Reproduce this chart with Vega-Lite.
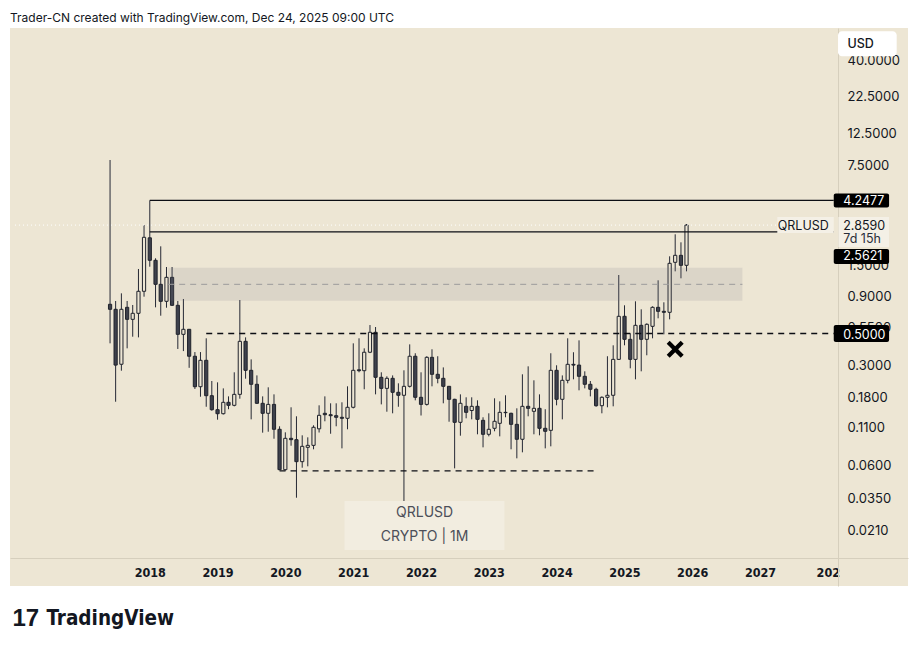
{
  "$schema": "https://vega.github.io/schema/vega-lite/v6.json",
  "width": 898,
  "height": 558,
  "autosize": {"type": "none"},
  "padding": {"left": 10, "top": 28, "right": 8, "bottom": 61},
  "background": "#ffffff",
  "config": {"view": {"fill": "#ede6d4", "stroke": null}},
  "title": {
    "text": "Trader-CN created with TradingView.com, Dec 24, 2025 09:00 UTC",
    "anchor": "start",
    "frame": "group",
    "font": "Inter",
    "fontSize": 12,
    "fontWeight": "normal",
    "color": "#131722",
    "baseline": "alphabetic",
    "offset": 7,
    "dy": 13
  },
  "datasets": {
    "candles": [
      {"t": "2017-06-01", "o": 0.800, "h": 8.14, "l": 0.427, "c": 0.738},
      {"t": "2017-07-01", "o": 0.738, "h": 0.8435, "l": 0.167, "c": 0.301},
      {"t": "2017-08-01", "o": 0.305, "h": 0.954, "l": 0.275, "c": 0.738},
      {"t": "2017-09-01", "o": 0.762, "h": 0.8435, "l": 0.394, "c": 0.628},
      {"t": "2017-10-01", "o": 0.628, "h": 0.791, "l": 0.475, "c": 0.692},
      {"t": "2017-11-01", "o": 0.692, "h": 1.411, "l": 0.470, "c": 0.986},
      {"t": "2017-12-01", "o": 0.986, "h": 2.862, "l": 0.904, "c": 2.349},
      {"t": "2018-01-01", "o": 2.33, "h": 4.2477, "l": 1.464, "c": 1.623},
      {"t": "2018-02-01", "o": 1.623, "h": 1.676, "l": 0.762, "c": 1.103},
      {"t": "2018-03-01", "o": 1.103, "h": 2.032, "l": 0.666, "c": 0.839},
      {"t": "2018-04-01", "o": 0.839, "h": 1.457, "l": 0.757, "c": 1.234},
      {"t": "2018-05-01", "o": 1.234, "h": 1.457, "l": 0.78, "c": 0.787},
      {"t": "2018-06-01", "o": 0.787, "h": 0.8435, "l": 0.390, "c": 0.4935},
      {"t": "2018-07-01", "o": 0.4935, "h": 0.871, "l": 0.377, "c": 0.535},
      {"t": "2018-08-01", "o": 0.535, "h": 0.536, "l": 0.288, "c": 0.347},
      {"t": "2018-09-01", "o": 0.347, "h": 0.371, "l": 0.205, "c": 0.2126},
      {"t": "2018-10-01", "o": 0.2126, "h": 0.371, "l": 0.181, "c": 0.325},
      {"t": "2018-11-01", "o": 0.325, "h": 0.463, "l": 0.154, "c": 0.184},
      {"t": "2018-12-01", "o": 0.184, "h": 0.233, "l": 0.1445, "c": 0.1469},
      {"t": "2019-01-01", "o": 0.1469, "h": 0.228, "l": 0.1251, "c": 0.1377},
      {"t": "2019-02-01", "o": 0.1377, "h": 0.207, "l": 0.136, "c": 0.1654},
      {"t": "2019-03-01", "o": 0.1654, "h": 0.182, "l": 0.148, "c": 0.1576},
      {"t": "2019-04-01", "o": 0.1576, "h": 0.268, "l": 0.155, "c": 0.188},
      {"t": "2019-05-01", "o": 0.188, "h": 0.857, "l": 0.1753, "c": 0.441},
      {"t": "2019-06-01", "o": 0.441, "h": 0.470, "l": 0.2418, "c": 0.2767},
      {"t": "2019-07-01", "o": 0.2767, "h": 0.330, "l": 0.1258, "c": 0.221},
      {"t": "2019-08-01", "o": 0.221, "h": 0.255, "l": 0.161, "c": 0.1628},
      {"t": "2019-09-01", "o": 0.1628, "h": 0.182, "l": 0.1015, "c": 0.1386},
      {"t": "2019-10-01", "o": 0.1386, "h": 0.2105, "l": 0.1031, "c": 0.160},
      {"t": "2019-11-01", "o": 0.160, "h": 0.188, "l": 0.0921, "c": 0.1072},
      {"t": "2019-12-01", "o": 0.1072, "h": 0.1125, "l": 0.0555, "c": 0.0560},
      {"t": "2020-01-01", "o": 0.0560, "h": 0.1021, "l": 0.0552, "c": 0.0927},
      {"t": "2020-02-01", "o": 0.0927, "h": 0.1527, "l": 0.0823, "c": 0.0907},
      {"t": "2020-03-01", "o": 0.0907, "h": 0.1321, "l": 0.03567, "c": 0.0637},
      {"t": "2020-04-01", "o": 0.0637, "h": 0.0973, "l": 0.0578, "c": 0.0815},
      {"t": "2020-05-01", "o": 0.0802, "h": 0.0942, "l": 0.0591, "c": 0.0828},
      {"t": "2020-06-01", "o": 0.0828, "h": 0.1143, "l": 0.0777, "c": 0.1107},
      {"t": "2020-07-01", "o": 0.108, "h": 0.1576, "l": 0.1018, "c": 0.1342},
      {"t": "2020-08-01", "o": 0.1386, "h": 0.182, "l": 0.1219, "c": 0.1355},
      {"t": "2020-09-01", "o": 0.1355, "h": 0.1628, "l": 0.0998, "c": 0.1334},
      {"t": "2020-10-01", "o": 0.1334, "h": 0.1628, "l": 0.1125, "c": 0.130},
      {"t": "2020-11-01", "o": 0.130, "h": 0.1654, "l": 0.0789, "c": 0.1279},
      {"t": "2020-12-01", "o": 0.1279, "h": 0.2139, "l": 0.1072, "c": 0.1527},
      {"t": "2021-01-01", "o": 0.1527, "h": 0.427, "l": 0.150, "c": 0.2767},
      {"t": "2021-02-01", "o": 0.279, "h": 0.463, "l": 0.268, "c": 0.275},
      {"t": "2021-03-01", "o": 0.275, "h": 0.394, "l": 0.204, "c": 0.370},
      {"t": "2021-04-01", "o": 0.370, "h": 0.573, "l": 0.365, "c": 0.510},
      {"t": "2021-05-01", "o": 0.510, "h": 0.555, "l": 0.188, "c": 0.2473},
      {"t": "2021-06-01", "o": 0.2473, "h": 0.268, "l": 0.160, "c": 0.207},
      {"t": "2021-07-01", "o": 0.207, "h": 0.2513, "l": 0.1422, "c": 0.2433},
      {"t": "2021-08-01", "o": 0.2433, "h": 0.255, "l": 0.1386, "c": 0.1943},
      {"t": "2021-09-01", "o": 0.1943, "h": 0.2245, "l": 0.154, "c": 0.1852},
      {"t": "2021-10-01", "o": 0.1852, "h": 0.2767, "l": 0.0309, "c": 0.2139},
      {"t": "2021-11-01", "o": 0.2139, "h": 0.420, "l": 0.210, "c": 0.347},
      {"t": "2021-12-01", "o": 0.347, "h": 0.364, "l": 0.1708, "c": 0.1793},
      {"t": "2022-01-01", "o": 0.1793, "h": 0.268, "l": 0.1338, "c": 0.160},
      {"t": "2022-02-01", "o": 0.160, "h": 0.347, "l": 0.157, "c": 0.341},
      {"t": "2022-03-01", "o": 0.341, "h": 0.388, "l": 0.2139, "c": 0.2595},
      {"t": "2022-04-01", "o": 0.2595, "h": 0.347, "l": 0.2245, "c": 0.2433},
      {"t": "2022-05-01", "o": 0.2433, "h": 0.290, "l": 0.1628, "c": 0.2139},
      {"t": "2022-06-01", "o": 0.2139, "h": 0.215, "l": 0.1211, "c": 0.1736},
      {"t": "2022-07-01", "o": 0.1736, "h": 0.175, "l": 0.0572, "c": 0.1199},
      {"t": "2022-08-01", "o": 0.1199, "h": 0.188, "l": 0.0967, "c": 0.1628},
      {"t": "2022-09-01", "o": 0.1551, "h": 0.1793, "l": 0.1279, "c": 0.1408},
      {"t": "2022-10-01", "o": 0.1450, "h": 0.1793, "l": 0.1258, "c": 0.1551},
      {"t": "2022-11-01", "o": 0.1551, "h": 0.1708, "l": 0.0989, "c": 0.1258},
      {"t": "2022-12-01", "o": 0.1238, "h": 0.130, "l": 0.0802, "c": 0.0989},
      {"t": "2023-01-01", "o": 0.0989, "h": 0.1386, "l": 0.0957, "c": 0.1072},
      {"t": "2023-02-01", "o": 0.1089, "h": 0.1764, "l": 0.1038, "c": 0.1219},
      {"t": "2023-03-01", "o": 0.118, "h": 0.168, "l": 0.0957, "c": 0.1408},
      {"t": "2023-04-01", "o": 0.1408, "h": 0.1852, "l": 0.130, "c": 0.1400},
      {"t": "2023-05-01", "o": 0.1386, "h": 0.140, "l": 0.0777, "c": 0.1161},
      {"t": "2023-06-01", "o": 0.1161, "h": 0.1502, "l": 0.0672, "c": 0.0913},
      {"t": "2023-07-01", "o": 0.0913, "h": 0.2595, "l": 0.0740, "c": 0.1551},
      {"t": "2023-08-01", "o": 0.1551, "h": 0.295, "l": 0.1321, "c": 0.1502},
      {"t": "2023-09-01", "o": 0.1431, "h": 0.2356, "l": 0.0989, "c": 0.1502},
      {"t": "2023-10-01", "o": 0.1502, "h": 0.188, "l": 0.0973, "c": 0.1089},
      {"t": "2023-11-01", "o": 0.1089, "h": 0.148, "l": 0.0789, "c": 0.1038},
      {"t": "2023-12-01", "o": 0.1054, "h": 0.364, "l": 0.0815, "c": 0.2767},
      {"t": "2024-01-01", "o": 0.2767, "h": 0.300, "l": 0.1576, "c": 0.1736},
      {"t": "2024-02-01", "o": 0.1736, "h": 0.255, "l": 0.1258, "c": 0.2356},
      {"t": "2024-03-01", "o": 0.2356, "h": 0.463, "l": 0.2245, "c": 0.3047},
      {"t": "2024-04-01", "o": 0.3047, "h": 0.370, "l": 0.2394, "c": 0.301},
      {"t": "2024-05-01", "o": 0.301, "h": 0.448, "l": 0.2006, "c": 0.2513},
      {"t": "2024-06-01", "o": 0.2513, "h": 0.2723, "l": 0.207, "c": 0.221},
      {"t": "2024-07-01", "o": 0.221, "h": 0.233, "l": 0.182, "c": 0.204},
      {"t": "2024-08-01", "o": 0.204, "h": 0.2092, "l": 0.154, "c": 0.1566},
      {"t": "2024-09-01", "o": 0.1566, "h": 0.182, "l": 0.1386, "c": 0.1793},
      {"t": "2024-10-01", "o": 0.1793, "h": 0.347, "l": 0.1527, "c": 0.1852},
      {"t": "2024-11-01", "o": 0.1852, "h": 0.4137, "l": 0.1551, "c": 0.330},
      {"t": "2024-12-01", "o": 0.330, "h": 1.281, "l": 0.328, "c": 0.6594},
      {"t": "2025-01-01", "o": 0.6594, "h": 0.787, "l": 0.4137, "c": 0.4555},
      {"t": "2025-02-01", "o": 0.4555, "h": 0.5016, "l": 0.2858, "c": 0.330},
      {"t": "2025-03-01", "o": 0.330, "h": 0.839, "l": 0.2394, "c": 0.5705},
      {"t": "2025-04-01", "o": 0.5705, "h": 0.738, "l": 0.2723, "c": 0.4555},
      {"t": "2025-05-01", "o": 0.4555, "h": 0.589, "l": 0.3523, "c": 0.5798},
      {"t": "2025-06-01", "o": 0.5614, "h": 0.7745, "l": 0.463, "c": 0.762},
      {"t": "2025-07-01", "o": 0.762, "h": 1.176, "l": 0.6385, "c": 0.7145},
      {"t": "2025-08-01", "o": 0.7145, "h": 0.826, "l": 0.4935, "c": 0.7033},
      {"t": "2025-09-01", "o": 0.7033, "h": 1.730, "l": 0.628, "c": 1.546},
      {"t": "2025-10-01", "o": 1.571, "h": 2.465, "l": 1.359, "c": 1.758},
      {"t": "2025-11-01", "o": 1.758, "h": 2.167, "l": 1.215, "c": 1.497},
      {"t": "2025-12-01", "o": 1.497, "h": 2.909, "l": 1.359, "c": 2.859}
    ],
    "zone": [{"t0": "2018-04-10", "t1": "2026-09-28", "lo": 0.847, "hi": 1.44, "mid": 1.103}],
    "lastPrice": [{"t0": "2016-01-06", "t1": "2028-02-02", "p": 2.859}],
    "solidLevels": [
      {"t0": "2018-01-01", "t1": "2028-02-02", "p": 4.2477},
      {"t0": "2018-01-01", "t1": "2028-02-02", "p": 2.5621}
    ],
    "dashedLevels": [
      {"t0": "2018-11-01", "t1": "2028-02-02", "p": 0.5},
      {"t0": "2019-12-01", "t1": "2024-08-01", "p": 0.055}
    ],
    "invalidation": [{"t": "2025-10-01", "p": 0.388}]
  },
  "layer": [
    {
      "data": {"name": "candles"},
      "mark": {"type": "rule", "color": "#262935", "strokeWidth": 1},
      "encoding": {
        "x": {
          "field": "t", "type": "temporal",
          "scale": {"type": "utc", "domain": [{"year": 2016, "month": 1, "date": 6, "utc": true}, {"year": 2029, "month": 2, "date": 9, "utc": true}], "nice": false},
          "axis": {
            "orient": "bottom", "offset": -28,
            "values": [{"year": 2018, "utc": true}, {"year": 2019, "utc": true}, {"year": 2020, "utc": true}, {"year": 2021, "utc": true}, {"year": 2022, "utc": true}, {"year": 2023, "utc": true}, {"year": 2024, "utc": true}, {"year": 2025, "utc": true}, {"year": 2026, "utc": true}, {"year": 2027, "utc": true}, {"year": 2028, "utc": true}],
            "labelExpr": "utcyear(datum.value) == 2028 ? '202' : utcFormat(datum.value, '%Y')",
            "ticks": false, "grid": false,
            "domainColor": "#d6cfbd", "domainWidth": 1,
            "labelFont": "Liberation Sans Narrow, DejaVu Sans Condensed, sans-serif",
            "labelFontSize": 12.5, "labelFontWeight": "bold", "labelColor": "#131722",
            "labelPadding": 8, "labelFlush": false, "labelOverlap": false,
            "title": "TradingView", "titleX": 36, "titleY": 66, "titleAlign": "left", "titleAnchor": "start", "titleBaseline": "alphabetic", "titleAngle": 0,
            "titleFont": "Liberation Sans Narrow, DejaVu Sans Condensed, sans-serif", "titleFontSize": 20.5, "titleFontWeight": "bold", "titleColor": "#131722"
          }
        },
        "y": {
          "field": "l", "type": "quantitative",
          "scale": {"type": "log", "domain": [0.008627, 67.99], "nice": false},
          "axis": {
            "orient": "right", "offset": -70,
            "values": [40, 22.5, 12.5, 7.5, 1.5, 0.9, 0.55, 0.3, 0.18, 0.11, 0.06, 0.035, 0.021],
            "format": ".4f", "ticks": false, "grid": false,
            "domainColor": "#d6cfbd", "domainWidth": 1,
            "labelFont": "Inter", "labelFontSize": 13, "labelColor": "#131722",
            "labelPadding": 9, "labelAlign": "left", "labelBaseline": "middle",
            "labelOverlap": false, "labelFlush": false,
            "title": "17", "titleAngle": 0, "titleX": -826, "titleY": 597, "titleAlign": "left", "titleBaseline": "alphabetic",
            "titleFont": "Liberation Sans", "titleFontSize": 24, "titleFontWeight": 900, "titleColor": "#131722"
          }
        },
        "y2": {"field": "h"}
      }
    },
    {
      "data": {"name": "candles"},
      "mark": {"type": "bar", "orient": "vertical", "size": 3.2, "stroke": "#20232c", "strokeWidth": 1},
      "encoding": {
        "x": {"field": "t", "type": "temporal"},
        "y": {"field": "o", "type": "quantitative"},
        "y2": {"field": "c"},
        "fill": {"condition": {"test": "datum.c < datum.o", "value": "#3e414c"}, "value": "#ede6d4"}
      }
    },
    {
      "data": {"name": "zone"},
      "mark": {"type": "rect", "color": "#787b86", "opacity": 0.15},
      "encoding": {
        "x": {"field": "t0", "type": "temporal"},
        "x2": {"field": "t1"},
        "y": {"field": "lo", "type": "quantitative"},
        "y2": {"field": "hi"}
      }
    },
    {
      "data": {"name": "zone"},
      "mark": {"type": "rule", "color": "#9b9b9b", "strokeWidth": 1, "strokeDash": [6, 5]},
      "encoding": {
        "x": {"field": "t0", "type": "temporal"},
        "x2": {"field": "t1"},
        "y": {"field": "mid", "type": "quantitative"}
      }
    },
    {
      "data": {"name": "lastPrice"},
      "mark": {"type": "rule", "color": "#ffffff", "strokeWidth": 1, "strokeDash": [1, 3]},
      "encoding": {
        "x": {"field": "t0", "type": "temporal"},
        "x2": {"field": "t1"},
        "y": {"field": "p", "type": "quantitative"}
      }
    },
    {
      "data": {"name": "solidLevels"},
      "mark": {"type": "rule", "color": "#0c0e14", "strokeWidth": 1.2},
      "encoding": {
        "x": {"field": "t0", "type": "temporal"},
        "x2": {"field": "t1"},
        "y": {"field": "p", "type": "quantitative"}
      }
    },
    {
      "data": {"name": "dashedLevels"},
      "mark": {"type": "rule", "color": "#0c0e14", "strokeWidth": 1.3, "strokeDash": [6, 5]},
      "encoding": {
        "x": {"field": "t0", "type": "temporal"},
        "x2": {"field": "t1"},
        "y": {"field": "p", "type": "quantitative"}
      }
    },
    {
      "data": {"name": "invalidation"},
      "mark": {"type": "point", "filled": true, "color": "#000000", "opacity": 1, "size": 289,
               "shape": "M-1,-0.65L-0.65,-1L0,-0.35L0.65,-1L1,-0.65L0.35,0L1,0.65L0.65,1L0,0.35L-0.65,1L-1,0.65L-0.35,0Z"},
      "encoding": {
        "x": {"field": "t", "type": "temporal"},
        "y": {"field": "p", "type": "quantitative"}
      }
    },
    {
      "data": {"values": [{"symbol": "QRLUSD", "detail": "CRYPTO | 1M"}]},
      "layer": [
        {
          "mark": {"type": "rect", "color": "#f2ede0"},
          "encoding": {
            "x": {"datum": {"year": 2020, "month": 11, "date": 15, "utc": true}, "type": "temporal"},
            "x2": {"datum": {"year": 2023, "month": 3, "date": 26, "utc": true}},
            "y": {"datum": 0.01539, "type": "quantitative"},
            "y2": {"datum": 0.03383}
          }
        },
        {
          "mark": {"type": "text", "font": "Inter", "fontSize": 14, "color": "#4c4f59", "align": "center", "baseline": "middle", "dy": -12.5},
          "encoding": {
            "x": {"datum": {"year": 2022, "month": 1, "date": 20, "utc": true}, "type": "temporal"},
            "y": {"datum": 0.0228, "type": "quantitative"},
            "text": {"field": "symbol"}
          }
        },
        {
          "mark": {"type": "text", "font": "Inter", "fontSize": 14, "color": "#4c4f59", "align": "center", "baseline": "middle", "dy": 11},
          "encoding": {
            "x": {"datum": {"year": 2022, "month": 1, "date": 20, "utc": true}, "type": "temporal"},
            "y": {"datum": 0.0228, "type": "quantitative"},
            "text": {"field": "detail"}
          }
        }
      ]
    },
    {
      "data": {"values": [{"price": 2.859, "symbol": "QRLUSD", "label": "2.8590", "countdown": "7d 15h"}]},
      "layer": [
        {
          "mark": {"type": "rect", "color": "#f4f0e6", "yOffset": -8, "y2Offset": 8},
          "encoding": {
            "x": {"datum": {"year": 2027, "month": 4, "date": 4, "utc": true}, "type": "temporal"},
            "x2": {"datum": {"year": 2028, "month": 2, "date": 2, "utc": true}},
            "y": {"field": "price", "type": "quantitative"},
            "y2": {"field": "price"}
          }
        },
        {
          "mark": {"type": "text", "font": "Inter", "fontSize": 12.5, "color": "#131722", "align": "right", "baseline": "middle", "dx": -5, "dy": 0.5},
          "encoding": {
            "x": {"datum": {"year": 2028, "month": 2, "date": 2, "utc": true}, "type": "temporal"},
            "y": {"field": "price", "type": "quantitative"},
            "text": {"field": "symbol"}
          }
        },
        {
          "mark": {"type": "rect", "color": "#f4f0e6", "yOffset": -8, "y2Offset": 22},
          "encoding": {
            "x": {"datum": {"year": 2028, "month": 2, "date": 27, "utc": true}, "type": "temporal"},
            "x2": {"datum": {"year": 2028, "month": 11, "date": 26, "utc": true}},
            "y": {"field": "price", "type": "quantitative"},
            "y2": {"field": "price"}
          }
        },
        {
          "mark": {"type": "text", "font": "Inter", "fontSize": 12.5, "color": "#131722", "align": "left", "baseline": "middle", "dx": 9.5, "dy": 0.5},
          "encoding": {
            "x": {"datum": {"year": 2028, "month": 2, "date": 2, "utc": true}, "type": "temporal"},
            "y": {"field": "price", "type": "quantitative"},
            "text": {"field": "label"}
          }
        },
        {
          "mark": {"type": "text", "font": "Inter", "fontSize": 12.5, "color": "#2a2e39", "align": "left", "baseline": "middle", "dx": 9.5, "dy": 14},
          "encoding": {
            "x": {"datum": {"year": 2028, "month": 2, "date": 2, "utc": true}, "type": "temporal"},
            "y": {"field": "price", "type": "quantitative"},
            "text": {"field": "countdown"}
          }
        }
      ]
    },
    {
      "data": {"values": [{"price": 4.2477, "label": "4.2477"}]},
      "layer": [
        {
          "mark": {"type": "rect", "color": "#000000", "yOffset": -7, "y2Offset": 7, "cornerRadius": 2},
          "encoding": {
            "x": {"datum": {"year": 2028, "month": 2, "date": 2, "utc": true}, "type": "temporal"},
            "x2": {"datum": {"year": 2028, "month": 11, "date": 26, "utc": true}},
            "y": {"field": "price", "type": "quantitative"},
            "y2": {"field": "price"}
          }
        },
        {
          "mark": {"type": "text", "font": "Inter", "fontSize": 12.5, "color": "#ffffff", "align": "left", "baseline": "middle", "dx": 9.5, "dy": 0.5},
          "encoding": {
            "x": {"datum": {"year": 2028, "month": 2, "date": 2, "utc": true}, "type": "temporal"},
            "y": {"field": "price", "type": "quantitative"},
            "text": {"field": "label"}
          }
        }
      ]
    },
    {
      "data": {"values": [{"price": 2.5621, "label": "2.5621"}]},
      "layer": [
        {
          "mark": {"type": "rect", "color": "#000000", "yOffset": 17, "y2Offset": 32, "cornerRadius": 2},
          "encoding": {
            "x": {"datum": {"year": 2028, "month": 2, "date": 2, "utc": true}, "type": "temporal"},
            "x2": {"datum": {"year": 2028, "month": 11, "date": 26, "utc": true}},
            "y": {"field": "price", "type": "quantitative"},
            "y2": {"field": "price"}
          }
        },
        {
          "mark": {"type": "text", "font": "Inter", "fontSize": 12.5, "color": "#ffffff", "align": "left", "baseline": "middle", "dx": 9.5, "dy": 24.5},
          "encoding": {
            "x": {"datum": {"year": 2028, "month": 2, "date": 2, "utc": true}, "type": "temporal"},
            "y": {"field": "price", "type": "quantitative"},
            "text": {"field": "label"}
          }
        }
      ]
    },
    {
      "data": {"values": [{"price": 0.5, "label": "0.5000"}]},
      "layer": [
        {
          "mark": {"type": "rect", "color": "#000000", "yOffset": -8.5, "y2Offset": 8.5, "cornerRadius": 2},
          "encoding": {
            "x": {"datum": {"year": 2028, "month": 2, "date": 2, "utc": true}, "type": "temporal"},
            "x2": {"datum": {"year": 2028, "month": 11, "date": 26, "utc": true}},
            "y": {"field": "price", "type": "quantitative"},
            "y2": {"field": "price"}
          }
        },
        {
          "mark": {"type": "text", "font": "Inter", "fontSize": 12.5, "color": "#ffffff", "align": "left", "baseline": "middle", "dx": 9.5, "dy": 1},
          "encoding": {
            "x": {"datum": {"year": 2028, "month": 2, "date": 2, "utc": true}, "type": "temporal"},
            "y": {"field": "price", "type": "quantitative"},
            "text": {"field": "label"}
          }
        }
      ]
    },
    {
      "data": {"values": [{"price": 52.7, "currency": "USD"}]},
      "layer": [
        {
          "mark": {"type": "rect", "color": "#ffffff", "yOffset": -12.5, "y2Offset": 12.5, "cornerRadius": 4},
          "encoding": {
            "x": {"datum": {"year": 2028, "month": 2, "date": 25, "utc": true}, "type": "temporal"},
            "x2": {"datum": {"year": 2029, "month": 1, "date": 6, "utc": true}},
            "y": {"field": "price", "type": "quantitative"},
            "y2": {"field": "price"}
          }
        },
        {
          "mark": {"type": "text", "font": "Inter", "fontSize": 12.5, "fontWeight": 500, "color": "#131722", "align": "left", "baseline": "middle", "dx": 9.5, "dy": 0.5},
          "encoding": {
            "x": {"datum": {"year": 2028, "month": 2, "date": 25, "utc": true}, "type": "temporal"},
            "y": {"field": "price", "type": "quantitative"},
            "text": {"field": "currency"}
          }
        }
      ]
    }
  ]
}
